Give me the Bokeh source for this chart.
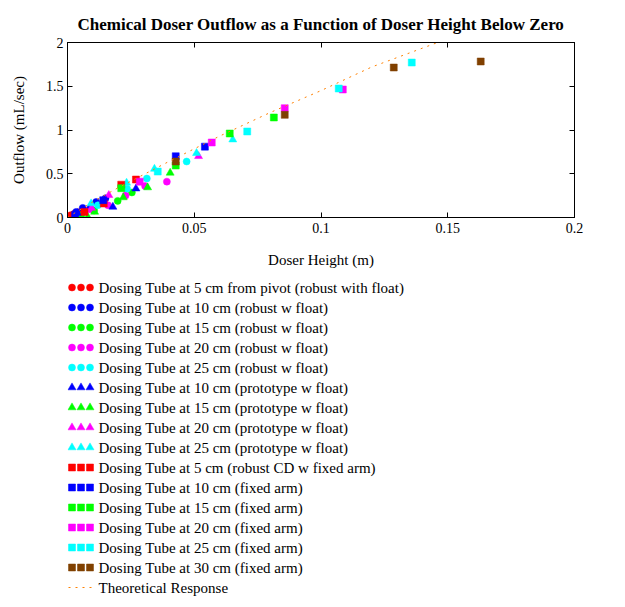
from bokeh.plotting import figure
from bokeh.models import Range1d, FixedTicker, LinearAxis, Title
from bokeh.layouts import column
from bokeh.embed import file_html
from bokeh.resources import INLINE
from bokeh.core.properties import value

FONT = "Liberation Serif"

# ---------------- data ----------------
x_ticks = [0, 0.05, 0.1, 0.15, 0.2]
x_tick_labels = ["0", "0.05", "0.1", "0.15", "0.2"]
y_ticks = [0, 0.5, 1, 1.5, 2]
y_tick_labels = ["0", "0.5", "1", "1.5", "2"]

names = [
    "Dosing Tube at 5 cm from pivot (robust with float)",
    "Dosing Tube at 10 cm (robust w float)",
    "Dosing Tube at 15 cm (robust w float)",
    "Dosing Tube at 20 cm (robust w float)",
    "Dosing Tube at 25 cm (robust w float)",
    "Dosing Tube at 10 cm (prototype w float)",
    "Dosing Tube at 15 cm (prototype w float)",
    "Dosing Tube at 20 cm (prototype w float)",
    "Dosing Tube at 25 cm (prototype w float)",
    "Dosing Tube at 5 cm (robust CD w fixed arm)",
    "Dosing Tube at 10 cm (fixed arm)",
    "Dosing Tube at 15 cm (fixed arm)",
    "Dosing Tube at 20 cm (fixed arm)",
    "Dosing Tube at 25 cm (fixed arm)",
    "Dosing Tube at 30 cm (fixed arm)",
]
markers = ["circle"] * 5 + ["triangle"] * 4 + ["square"] * 6
colors = ["#FF0000", "#0000FF", "#00FF00", "#FF00FF", "#00FFFF",
          "#0000FF", "#00FF00", "#FF00FF", "#00FFFF",
          "#FF0000", "#0000FF", "#00FF00", "#FF00FF", "#00FFFF", "#804000"]

xs = [
    [0.0012, 0.0025, 0.0045],
    [0.0034, 0.0060, 0.0113, 0.0150],
    [0.0054, 0.0105, 0.0198, 0.0254],
    [0.0087, 0.0160, 0.0229, 0.0306, 0.0392],
    [0.0120, 0.0235, 0.0313, 0.0470],
    [0.0040, 0.0090, 0.0179, 0.0270],
    [0.0080, 0.0107, 0.0220, 0.0316, 0.0405],
    [0.0095, 0.0163, 0.0517],
    [0.0093, 0.0233, 0.0343, 0.0509, 0.0652],
    [0.0067, 0.0143, 0.0212, 0.0270],
    [0.0030, 0.0141, 0.0427, 0.0542],
    [0.0212, 0.0427, 0.0640, 0.0814],
    [0.0285, 0.0569, 0.0857, 0.1086],
    [0.0356, 0.0709, 0.1070, 0.1358],
    [0.0427, 0.0857, 0.1287, 0.1630],
]
ys = [
    [0.026, 0.040, 0.060],
    [0.064, 0.110, 0.178, 0.220],
    [0.020, 0.080, 0.190, 0.286],
    [0.095, 0.140, 0.251, 0.360, 0.410],
    [0.140, 0.330, 0.446, 0.640],
    [0.050, 0.130, 0.121, 0.330],
    [0.007, 0.064, 0.229, 0.343, 0.510],
    [0.110, 0.255, 0.700],
    [0.160, 0.396, 0.555, 0.735, 0.890],
    [0.064, 0.160, 0.375, 0.434],
    [0.030, 0.198, 0.700, 0.810],
    [0.335, 0.594, 0.960, 1.143],
    [0.410, 0.857, 1.249, 1.463],
    [0.525, 0.983, 1.474, 1.771],
    [0.640, 1.173, 1.714, 1.783],
]

theory_name = "Theoretical Response"
theory_x = [0, 0.01, 0.02, 0.04, 0.06, 0.08, 0.10, 0.12, 0.146]
theory_y = [0, 0.18, 0.34, 0.64, 0.93, 1.20, 1.45, 1.72, 2.0]
theory_color = "#FF8000"

# ---------------- layout constants ----------------
W = 617
B_LEFT, B_RIGHT = 67, 43
TOP_H = 278

# ---------------- main chart ----------------
p = figure(width=W, height=TOP_H, output_backend="svg", toolbar_location=None,
           x_range=Range1d(0, 0.2), y_range=Range1d(0, 2),
           min_border_left=B_LEFT, min_border_right=B_RIGHT, min_border_top=42,
           min_border_bottom=61)
p.title = Title(text="Chemical Doser Outflow as a Function of Doser Height Below Zero",
                text_font=FONT, text_font_size="17px", text_font_style="bold",
                align="center", vertical_align="bottom", text_color="black", standoff=18)
p.grid.visible = False
p.outline_line_color = "black"
p.outline_line_width = 1
p.background_fill_color = "white"
p.border_fill_color = "white"

def style_axis(ax, ticks, labels, show_labels=True):
    ax.ticker = FixedTicker(ticks=ticks)
    ax.major_label_overrides = {t: (l if show_labels else "") for t, l in zip(ticks, labels)}
    ax.major_tick_in = 5
    ax.major_tick_out = 0
    ax.minor_tick_line_color = None
    ax.axis_line_color = "black"
    ax.major_tick_line_color = "black"
    ax.major_label_text_font = FONT
    ax.major_label_text_font_size = "14px"
    ax.major_label_text_color = "black"
    ax.axis_label_text_font = FONT
    ax.axis_label_text_font_size = "15px"
    ax.axis_label_text_font_style = "normal"
    ax.axis_label_text_color = "black"

style_axis(p.xaxis[0], x_ticks, x_tick_labels)
style_axis(p.yaxis[0], y_ticks, y_tick_labels)
p.xaxis[0].axis_label = "Doser Height (m)"
p.xaxis[0].axis_label_standoff = 16
p.xaxis[0].major_label_standoff = 5
p.yaxis[0].axis_label = "Outflow (mL/sec)"
p.yaxis[0].axis_label_standoff = 16
p.yaxis[0].major_label_standoff = 4

top_ax = LinearAxis()
style_axis(top_ax, x_ticks, x_tick_labels, show_labels=False)
top_ax.major_label_text_font_size = "0px"
top_ax.major_label_standoff = 0
p.add_layout(top_ax, "above")
right_ax = LinearAxis()
style_axis(right_ax, y_ticks, y_tick_labels, show_labels=False)
right_ax.major_label_text_font_size = "0px"
right_ax.major_label_standoff = 0
p.add_layout(right_ax, "right")

sizes = {"circle": 7, "triangle": 8, "square": 7}
for sx, sy, mk, c in zip(xs, ys, markers, colors):
    p.scatter(sx, sy, marker=mk, size=sizes[mk], fill_color=c, line_color=c, line_width=0.5)

p.line(theory_x, theory_y, line_color=theory_color, line_width=1, line_dash="2 5")

# ---------------- legend panel (x in page pixels, y in row index) ----------------
LEG_H = 321
leg = figure(width=W, height=LEG_H, output_backend="svg", toolbar_location=None,
             x_range=Range1d(B_LEFT, W - B_RIGHT),
             y_range=Range1d((LEG_H - 9) / 20.0, -9 / 20.0),
             min_border_left=B_LEFT, min_border_right=B_RIGHT,
             min_border_top=0, min_border_bottom=0,
             x_axis_location=None, y_axis_location=None)
leg.grid.visible = False
leg.outline_line_color = None
leg.background_fill_color = "white"
leg.border_fill_color = "white"

offsets = [71.5, 80.5, 89.5]
for i, (mk, c) in enumerate(zip(markers, colors)):
    leg.scatter(offsets, [i] * 3, marker=mk, size=sizes[mk], fill_color=c, line_color=c,
                line_width=0.5)
n = len(names)
leg.line([68, 93], [n, n], line_color=theory_color, line_width=1, line_dash="2 5")
all_names = names + [theory_name]
leg.text(x=[98] * len(all_names), y=list(range(len(all_names))), text=all_names,
         text_font=value(FONT), text_font_size="15px", text_baseline="middle",
         text_align="left", text_color="black")

layout = column(p, leg, spacing=0)
open("out.html", "w").write(file_html(layout, INLINE))
